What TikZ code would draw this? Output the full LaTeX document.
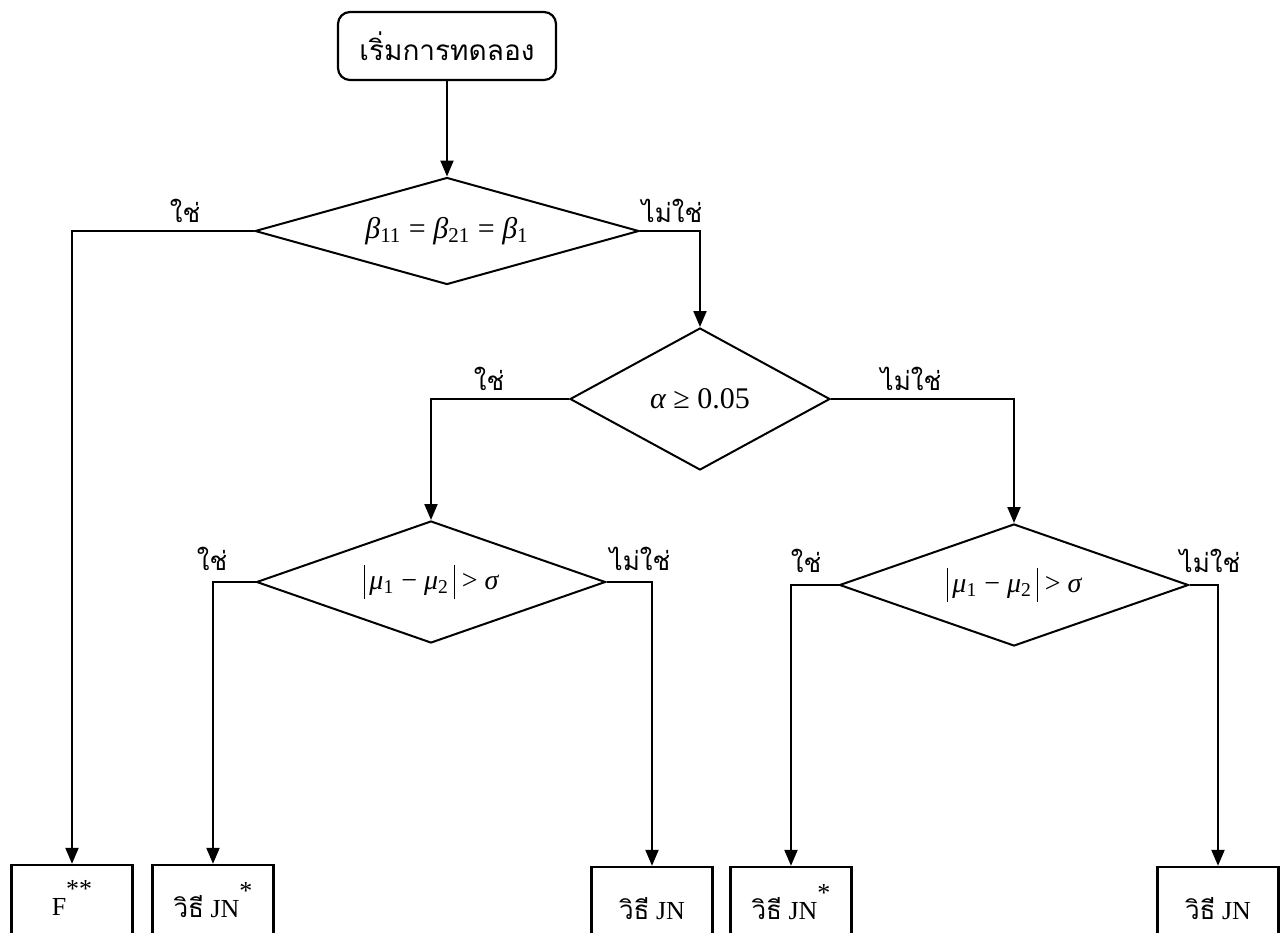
\documentclass[tikz,border=0pt]{standalone}
\usepackage{fontspec}
\setmainfont{Liberation Serif}
\newfontfamily\thai[Script=Thai]{Loma}
\usetikzlibrary{shapes.geometric,arrows.meta}

% tall bar for the absolute value
\newcommand\absbar{\rule[-0.35em]{0.6pt}{1.2em}}
% raised full size stars
\newcommand\stars[1]{\smash{\raisebox{0.7em}{#1}}}

\begin{document}
\begin{tikzpicture}[x=0.5pt, y=-0.5pt, line width=1.1pt,
    test/.style={draw, diamond, line width=1pt, inner sep=0pt, font=\fontsize{15}{17}\selectfont},
    result/.style={draw, line width=1.2pt, minimum width=60.5pt, minimum height=42pt, font=\fontsize{13}{15}\selectfont},
    answer/.style={anchor=south, inner sep=0pt, font=\thai\fontsize{13}{15}\selectfont},
    flow/.style={-{Triangle[length=8pt,width=6.5pt]}}]
            \useasboundingbox (0,0) rectangle (1282,933);

            %Start
            \node [draw, rounded corners=6pt, minimum width=109pt, minimum height=34pt, font=\thai\fontsize{14}{16}\selectfont]
            (start)at(447,46){เริ่มการทดลอง};
            %Tests
            \node [test, minimum width=192pt, minimum height=53.5pt, aspect=3.6]
            (t1)at(447,231){{\itshape β}\textsubscript{11} = {\itshape β}\textsubscript{21} = {\itshape β}\textsubscript{1}};
            \node [test, minimum width=130pt, minimum height=71pt, aspect=1.83]
            (t2)at(700,399){{\itshape α} ≥ 0.05};
            \node [test, minimum width=174.5pt, minimum height=61pt, aspect=2.86, font=\fontsize{14}{16}\selectfont]
            (t3)at(431,582){\absbar\,{\itshape μ}\textsubscript{1} − {\itshape μ}\textsubscript{2}\,\absbar\ > {\itshape σ}};
            \node [test, minimum width=174.5pt, minimum height=61pt, aspect=2.86, font=\fontsize{14}{16}\selectfont]
            (t4)at(1014,585){\absbar\,{\itshape μ}\textsubscript{1} − {\itshape μ}\textsubscript{2}\,\absbar\ > {\itshape σ}};
            %Yes / No
            \node [answer] (y1)at(185,224){ใช่};
            \node [answer] (n1)at(672,224){ไม่ใช่};
            \node [answer] (y2)at(489,392){ใช่};
            \node [answer] (n2)at(911,392){ไม่ใช่};
            \node [answer] (y3)at(212,572){ใช่};
            \node [answer] (n3)at(640,572){ไม่ใช่};
            \node [answer] (y4)at(806,574){ใช่};
            \node [answer] (n4)at(1210,574){ไม่ใช่};
            %Methods
            \node [result] (bF)at(72,907){F\stars{**}};
            \node [result] (b2)at(213,907){{\thai วิธี} JN\stars{*}};
            \node [result] (b3)at(652,909){{\thai วิธี} JN};
            \node [result] (b4)at(791,909){{\thai วิธี} JN\stars{*}};
            \node [result] (b5)at(1218,909){{\thai วิธี} JN};

            \draw [flow](start)--(t1);
            \draw [flow](t1.west)-|(bF);
            \draw [flow](t1.east)-|(t2);
            \draw [flow](t2.west)-|(t3);
            \draw [flow](t2.east)-|(t4);
            \draw [flow](t3.west)-|(b2);
            \draw [flow](t3.east)-|(b3);
            \draw [flow](t4.west)-|(b4);
            \draw [flow](t4.east)-|(b5);

        \end{tikzpicture}
\end{document}
